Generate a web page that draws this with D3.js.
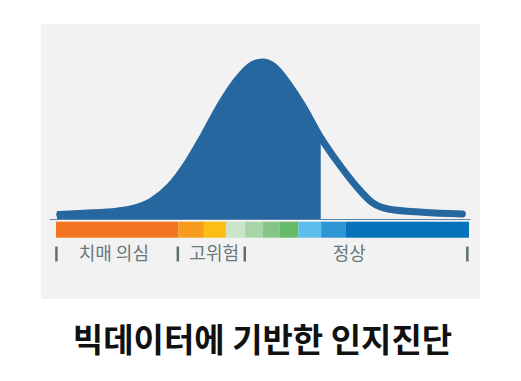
<!DOCTYPE html>
<html>
<head>
<meta charset="utf-8">
<script src="https://cdn.jsdelivr.net/npm/d3@7"></script>
<style>
  html, body { margin: 0; padding: 0; background: #ffffff; }
  svg { display: block; }
</style>
</head>
<body>
<svg id="chart" width="521" height="381"></svg>
<script>
// ---- Data ----
const curveScore = [0.9, 6.6, 14.7, 18.7, 23.3, 27.5, 31.6, 35.7, 39.7, 43.7, 47.4, 50, 52.7, 55.7, 59.7, 64.1, 68.5, 72.6, 76.6, 80.7, 88.8, 98.4];
const curveDensity = [2.9, 3.7, 5.0, 6.7, 11.7, 20.7, 34.9, 53.1, 72.3, 88.1, 98.1, 100, 97.2, 88.2, 72.4, 51.8, 35.0, 21.2, 10.4, 6.2, 4.3, 3.2];
const fillCutoff = 64.1;

const segmentStarts = [0, 29.6, 35.8, 41.2, 45.8, 50, 54.2, 58.7, 64.2, 70.2];
const segmentEnds   = [29.6, 35.8, 41.2, 45.8, 50, 54.2, 58.7, 64.2, 70.2, 100];
const segmentColors = ["#F37321", "#F89C1E", "#FCBE14", "#C9E4C8", "#A8D5A6", "#85C687", "#66BB6A", "#5BBEEC", "#2E95D4", "#0672B9"];

const tickScores = [0.1, 29.5, 45.7, 99.6];
const categoryLabels = ["치매 의심", "고위험", "정상"];
const categoryLabelPos = [14, 38.3, 71];

const title = "빅데이터에 기반한 인지진단";

// ---- Layout ----
const svg = d3.select("#chart");
const curveColor = "#2667A0";

svg.append("rect")
  .attr("x", 41).attr("y", 24)
  .attr("width", 439).attr("height", 275)
  .attr("fill", "#f2f2f2");

const x = d3.scaleLinear().domain([0, 100]).range([56, 469]);
const y = d3.scaleLinear().domain([0, 100]).range([219, 62]);

const pts = curveScore.map((s, i) => ({ s, d: curveDensity[i] }));

// filled area up to cutoff
const area = d3.area()
  .x(p => x(p.s))
  .y0(y(0))
  .y1(p => y(p.d))
  .curve(d3.curveMonotoneX);

svg.append("path")
  .datum(pts.filter(p => p.s <= fillCutoff))
  .attr("d", area)
  .attr("fill", curveColor);

// square left foot of the fill
svg.append("rect")
  .attr("x", x(0) + 1).attr("y", y(curveDensity[0]) - 3.5)
  .attr("width", x(curveScore[0]) - x(0)).attr("height", y(0) - y(curveDensity[0]) + 3.5)
  .attr("fill", curveColor);

// thick curve line
const line = d3.line()
  .x(p => x(p.s))
  .y(p => y(p.d))
  .curve(d3.curveMonotoneX);

svg.append("path")
  .datum(pts)
  .attr("d", line)
  .attr("fill", "none")
  .attr("stroke", curveColor)
  .attr("stroke-width", 7)
  .attr("stroke-linecap", "round")
  .attr("stroke-linejoin", "round");

// baseline
svg.append("line")
  .attr("x1", 50).attr("x2", 470.5)
  .attr("y1", y(0) + 0.5).attr("y2", y(0) + 0.5)
  .attr("stroke", "#5a85b3")
  .attr("stroke-width", 1.2);

// color bar
svg.selectAll("rect.seg")
  .data(segmentStarts)
  .join("rect")
  .attr("class", "seg")
  .attr("x", (d) => x(d))
  .attr("y", 221.7)
  .attr("width", (d, i) => x(segmentEnds[i]) - x(d))
  .attr("height", 16)
  .attr("fill", (d, i) => segmentColors[i]);

// tick marks
svg.selectAll("line.tick")
  .data(tickScores)
  .join("line")
  .attr("class", "tick")
  .attr("x1", d => x(d)).attr("x2", d => x(d))
  .attr("y1", 246.5).attr("y2", 261.5)
  .attr("stroke", "#5f7070")
  .attr("stroke-width", 2.5);

// category labels
svg.selectAll("text.cat")
  .data(categoryLabels)
  .join("text")
  .attr("class", "cat")
  .attr("x", (d, i) => x(categoryLabelPos[i]))
  .attr("y", 260)
  .attr("text-anchor", "middle")
  .attr("font-family", "'Noto Sans CJK KR', 'Noto Sans', sans-serif")
  .attr("font-size", 18)
  .attr("font-weight", 400)
  .attr("fill", "#67787a")
  .text(d => d);

// title
svg.append("text")
  .attr("x", 262.5)
  .attr("y", 352)
  .attr("text-anchor", "middle")
  .attr("font-family", "'Noto Sans CJK KR', 'Noto Sans', sans-serif")
  .attr("font-size", 33)
  .attr("font-weight", 700)
  .attr("fill", "#111111")
  .text(title);
</script>
</body>
</html>
